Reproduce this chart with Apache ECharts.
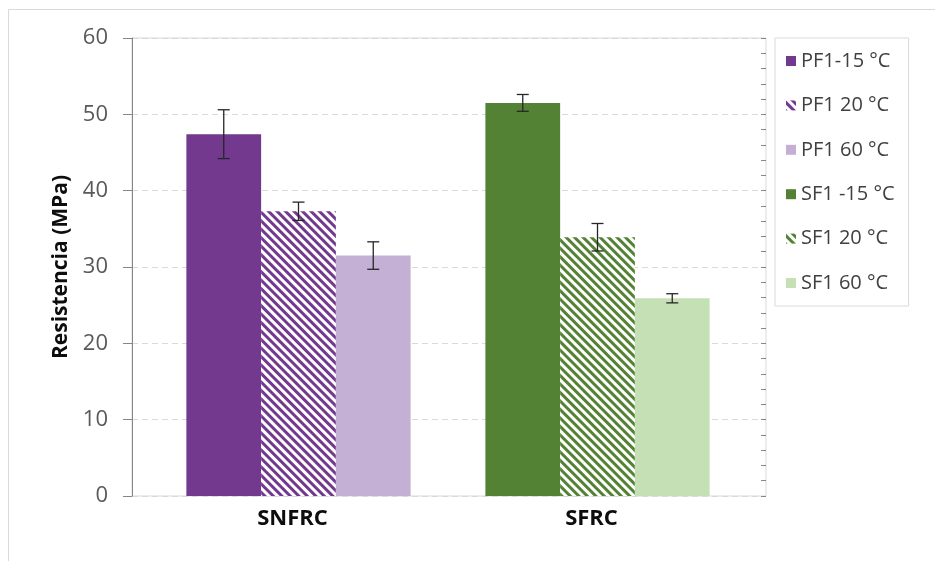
<!DOCTYPE html>
<html>
<head>
<meta charset="utf-8">
<script src="https://cdn.jsdelivr.net/npm/echarts@6/dist/echarts.min.js"></script>
<style>
  html, body { margin: 0; padding: 0; background: #fff; }
  #chart { width: 935px; height: 561px; }
</style>
</head>
<body>
<div id="chart"></div>
<script>
const categories = ["SNFRC", "SFRC"];
const seriesNames = ["PF1-15 °C", "PF1 20 °C", "PF1 60 °C", "SF1 -15 °C", "SF1 20 °C", "SF1 60 °C"];
// one value per series, null where the series has no bar
const pf1Minus15 = [47.4, null];
const pf1At20 = [37.3, null];
const pf1At60 = [31.5, null];
const sf1Minus15 = [null, 51.5];
const sf1At20 = [null, 33.9];
const sf1At60 = [null, 25.9];
// error bar half-lengths, same layout
const pf1Minus15Err = [3.2, null];
const pf1At20Err = [1.2, null];
const pf1At60Err = [1.8, null];
const sf1Minus15Err = [null, 1.1];
const sf1At20Err = [null, 1.8];
const sf1At60Err = [null, 0.6];

const purple = "#72398e";
const purpleLight = "#c5b0d5";
const green = "#548235";
const greenLight = "#c5e0b4";
const font = "'Open Sans', sans-serif";

const values = [pf1Minus15, pf1At20, pf1At60, sf1Minus15, sf1At20, sf1At60];
const errors = [pf1Minus15Err, pf1At20Err, pf1At60Err, sf1Minus15Err, sf1At20Err, sf1At60Err];

function hatch(color) {
  return {
    color: "#fff",
    decal: {
      symbol: "rect",
      symbolSize: 1,
      dashArrayX: [1, 0],
      dashArrayY: [3, 3],
      rotation: Math.PI / 4,
      color: color,
    },
  };
}

const styles = [
  { color: purple },
  hatch(purple),
  { color: purpleLight },
  { color: green },
  hatch(green),
  { color: greenLight },
];

// slot within the group: -15, 20, 60
const slots = [0, 1, 2, 0, 1, 2];

const barSeries = seriesNames.map((name, i) => ({
  type: "bar",
  name,
  xAxisIndex: 0,
  yAxisIndex: 0,
  stack: "slot" + slots[i],
  barGap: "0%",
  barCategoryGap: "25%",
  data: values[i],
  itemStyle: styles[i],
  emphasis: { disabled: true },
}));

const errorData = [];
values.forEach((vals, i) => {
  vals.forEach((v, c) => {
    if (v != null) {
      errorData.push([c, slots[i], v, errors[i][c]]);
    }
  });
});

function renderError(params, api) {
  const cat = api.value(0);
  const slot = api.value(1);
  const val = api.value(2);
  const err = api.value(3);
  const bw = api.size([1, 0])[0] * 0.25;
  const x = api.coord([cat, val])[0] + (slot - 1) * bw;
  const yTop = api.coord([cat, val + err])[1];
  const yBot = api.coord([cat, val - err])[1];
  const cap = 6;
  const style = { stroke: "#262626", lineWidth: 1.3 };
  return {
    type: "group",
    children: [
      { type: "line", shape: { x1: x, y1: yTop, x2: x, y2: yBot }, style },
      { type: "line", shape: { x1: x - cap, y1: yTop, x2: x + cap, y2: yTop }, style },
      { type: "line", shape: { x1: x - cap, y1: yBot, x2: x + cap, y2: yBot }, style },
    ],
  };
}

const chart = echarts.init(document.getElementById("chart"));
chart.setOption({
  animation: false,
  backgroundColor: "#fff",
  textStyle: { fontFamily: font },
  graphic: [
    {
      type: "rect",
      shape: { x: 8.5, y: 9.5, width: 1000, height: 1000 },
      style: { fill: "none", stroke: "#d9d9d9", lineWidth: 1 },
      silent: true,
    },
  ],
  grid: [
    { left: 149, right: 188, top: 38, bottom: 65 },
    { left: 132, right: 169, top: 38, bottom: 65, show: true, borderColor: "#d9d9d9", borderWidth: 1 },
  ],
  legend: {
    data: seriesNames,
    orient: "vertical",
    left: 775,
    top: 38,
    itemWidth: 10,
    itemHeight: 10,
    itemGap: 22.4,
    icon: "rect",
    padding: [12, 14, 12, 11],
    borderColor: "#d9d9d9",
    borderWidth: 1,
    textStyle: { fontFamily: font, fontSize: 20, lineHeight: 22, color: "#404040" },
  },
  xAxis: [
    {
      type: "category",
      gridIndex: 0,
      data: categories,
      axisLine: { show: false },
      axisTick: { show: false },
      axisLabel: {
        fontFamily: font,
        fontSize: 22,
        fontWeight: "bold",
        color: "#0d0d0d",
        margin: 12,
        padding: [0, 12, 0, 0],
      },
    },
    { type: "value", gridIndex: 1, min: 0, max: 1, show: false },
  ],
  yAxis: [
    { type: "value", gridIndex: 0, min: 0, max: 60, show: false },
    {
      type: "value",
      gridIndex: 1,
      min: 0,
      max: 60,
      interval: 10,
      name: "Resistencia (MPa)",
      nameLocation: "middle",
      nameGap: 60,
      nameTextStyle: { fontFamily: font, fontSize: 21, fontWeight: "bold", color: "#0d0d0d" },
      axisLine: { show: true, lineStyle: { color: "#868686" } },
      axisTick: { show: true, length: 9, lineStyle: { color: "#868686" } },
      axisLabel: { fontFamily: font, fontSize: 22, color: "#595959", margin: 24 },
      splitLine: { show: true, lineStyle: { color: "#d9d9d9", type: [6, 4] } },
    },
    {
      type: "value",
      gridIndex: 1,
      min: 0,
      max: 60,
      interval: 2,
      axisLine: { show: false },
      axisTick: { show: true, inside: true, length: 5, lineStyle: { color: "#868686" } },
      axisLabel: { show: false },
      splitLine: { show: false },
    },
  ],
  series: [
    ...barSeries,
    {
      type: "custom",
      name: "error",
      xAxisIndex: 0,
      yAxisIndex: 0,
      renderItem: renderError,
      data: errorData,
      z: 10,
      silent: true,
    },
  ],
});
</script>
</body>
</html>
